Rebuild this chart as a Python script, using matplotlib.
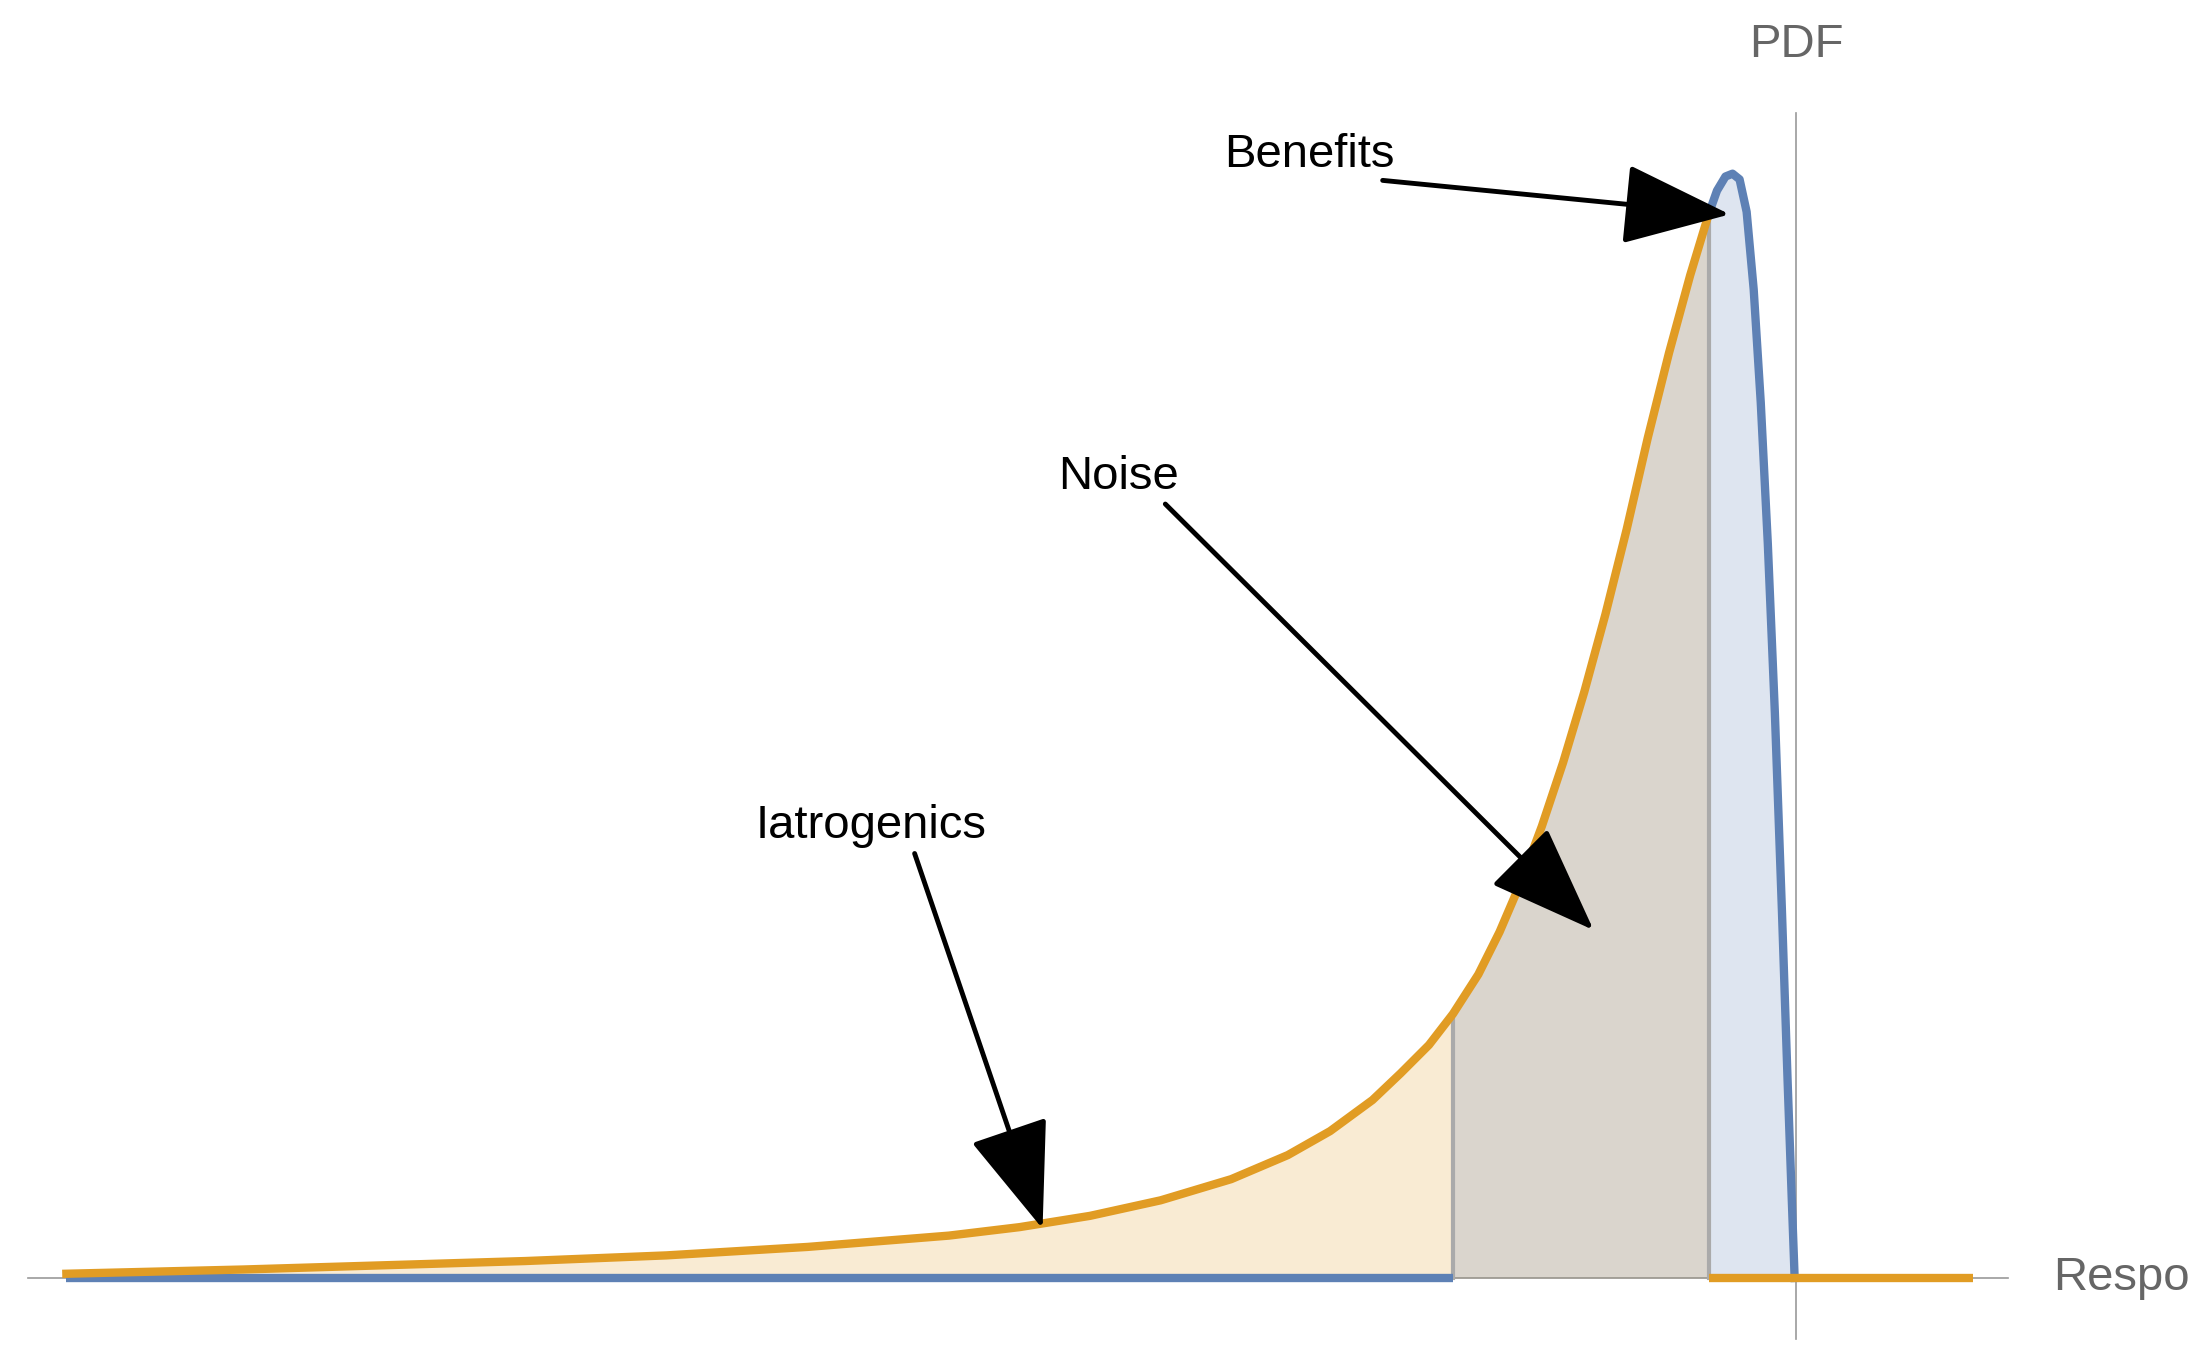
import matplotlib
matplotlib.use("Agg")
import matplotlib.pyplot as plt
import numpy as np

# values (x: response, y: density, arbitrary units)
noise_x = [-12.25, -11.0, -10.0, -9.0, -8.0, -7.0, -6.0, -5.5, -5.0, -4.5, -4.0, -3.6, -3.3, -3.0,
           -2.8, -2.6, -2.43, -2.25, -2.1, -1.95, -1.8, -1.65, -1.5, -1.35, -1.2, -1.05, -0.9, -0.75, -0.62]
noise_y = [0.03, 0.06, 0.09, 0.12, 0.16, 0.22, 0.30, 0.36, 0.44, 0.55, 0.70, 0.87, 1.04, 1.26,
           1.45, 1.65, 1.87, 2.15, 2.45, 2.80, 3.20, 3.65, 4.15, 4.70, 5.30, 5.95, 6.55, 7.10, 7.53]
tail_x = [-0.62, 1.25]
blue_x = [-0.62, -0.56, -0.50, -0.45, -0.40, -0.35, -0.30, -0.25, -0.20, -0.15, -0.10, -0.06, -0.03, -0.01]
blue_y = [7.53, 7.70, 7.80, 7.82, 7.78, 7.55, 7.00, 6.20, 5.20, 4.00, 2.60, 1.40, 0.55, 0.0]
blue_zero_x = [-12.25, -2.43]
cut_left, cut_right = -2.43, -0.62

ORANGE = "#E19C24"
BLUE = "#5E81B5"
plt.rcParams['font.family'] = ['Liberation Sans', 'DejaVu Sans']

fig = plt.figure(figsize=(21.9, 13.5), dpi=100)
ax = fig.add_axes([0, 0, 1, 1])
ax.set_xlim(-12.72, 2.79)
ax.set_ylim(-0.51, 9.05)
ax.axis("off")

# axes
ax.plot([-12.52, 1.5], [0, 0], color="#999999", lw=1.2, zorder=1)
ax.plot([0, 0], [-0.43, 8.25], color="#999999", lw=1.2, zorder=1)
ax.text(1.82, -0.0, "Response", fontsize=34, color="#666666", va="center", ha="left", clip_on=False)
ax.text(0, 8.73, "PDF", fontsize=34, color="#666666", va="center", ha="center")

nx = np.array(noise_x); ny = np.array(noise_y)
ax.fill_between(nx, 0, ny, color=ORANGE, alpha=0.2, lw=0, zorder=2)
m = nx >= cut_left
bx = np.concatenate([nx[m], blue_x[1:]])
by = np.concatenate([ny[m], blue_y[1:]])
ax.fill_between(bx, 0, by, color=BLUE, alpha=0.2, lw=0, zorder=2)

for c in (cut_left, cut_right):
    ax.plot([c, c], [0, np.interp(c, nx, ny)], color="#AAAAAA", lw=3, zorder=3)

ax.plot(blue_zero_x, [0, 0], color=BLUE, lw=6, zorder=4, solid_capstyle="butt")
ax.plot(blue_x, blue_y, color=BLUE, lw=6, zorder=4, solid_joinstyle="round")
ax.plot(noise_x, noise_y, color=ORANGE, lw=6, zorder=5, solid_joinstyle="round")
ax.plot(tail_x, [0, 0], color=ORANGE, lw=6, zorder=5, solid_capstyle="butt")

ap = dict(arrowstyle="-|>,head_length=2.0,head_width=0.75", color="black", lw=3.5)
ax.annotate("Benefits", xy=(-0.45, 7.53), xytext=(-3.45, 7.95), fontsize=34,
            ha="center", va="center", arrowprops=dict(ap, relpos=(0.75, 0)), zorder=6)
ax.annotate("Noise", xy=(-1.42, 2.45), xytext=(-4.8, 5.67), fontsize=34,
            ha="center", va="center", arrowprops=dict(ap, relpos=(0.85, 0)), zorder=6)
ax.annotate("Iatrogenics", xy=(-5.33, 0.33), xytext=(-6.55, 3.2), fontsize=34,
            ha="center", va="center", arrowprops=dict(ap, relpos=(0.68, 0)), zorder=6)

fig.savefig("out.png", dpi=100)
